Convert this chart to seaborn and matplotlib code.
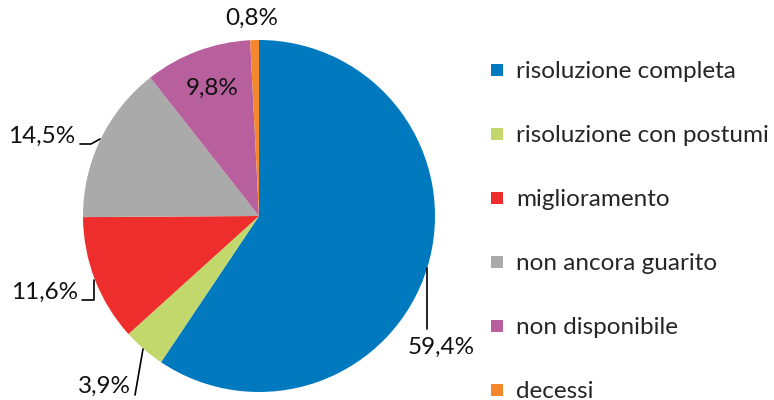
import matplotlib
matplotlib.use("Agg")
import matplotlib.pyplot as plt
import seaborn as sns
from matplotlib.lines import Line2D

categories = ["risoluzione completa", "risoluzione con postumi", "miglioramento",
              "non ancora guarito", "non disponibile", "decessi"]
values = [59.4, 3.9, 11.6, 14.5, 9.8, 0.8]
value_labels = ["59,4%", "3,9%", "11,6%", "14,5%", "9,8%", "0,8%"]
colors = ["#0079BF", "#C2D86C", "#EE2E2C", "#ABAAAA", "#B8609D", "#F5882C"]

sns.set_style("white")
plt.rcParams["font.family"] = ["Lato", "DejaVu Sans"]

W, H = 774, 400
fig = plt.figure(figsize=(W / 100, H / 100), dpi=100)
cx, cy, r = 259, 216, 176
ax = fig.add_axes([(cx - r) / W, (H - cy - r) / H, 2 * r / W, 2 * r / H])
ax.pie(values, colors=colors, startangle=90, counterclock=False,
       wedgeprops=dict(linewidth=0))
ax.set_xlim(-1, 1)
ax.set_ylim(-1, 1)
ax.axis("off")


def d(px, py):
    # pixel position -> data coords of the pie axes
    return (px - cx) / r, (cy - py) / r


# label positions (pixel centres) and leader lines
label_pos = [(441, 347), (104, 386), (45, 292), (42, 136), (212, 88), (252, 18)]
leaders = [
    [(427, 268), (427, 329)],
    [(143, 349), (135, 395)],
    [(82, 300), (94, 300), (94, 280)],
    [(80, 144), (91, 144), (100, 139)],
    None,
    None,
]
fs = 17.5
for lab, (px, py), ld in zip(value_labels, label_pos, leaders):
    x, y = d(px, py)
    ax.text(x, y, lab, ha="center", va="center", fontsize=fs, color="#111111",
            clip_on=False)
    if ld:
        pts = [d(*p) for p in ld]
        ax.plot([p[0] for p in pts], [p[1] for p in pts], color="black",
                lw=1.2, clip_on=False)

handles = [Line2D([0], [0], marker="s", linestyle="none", markersize=8.5,
                  markerfacecolor=c, markeredgewidth=0) for c in colors]
fig.legend(handles, categories, loc="upper left",
           bbox_to_anchor=(485 / W, 1 - 61 / H), frameon=False, fontsize=fs,
           labelspacing=1.77, handletextpad=0.27, handlelength=1.0,
           borderpad=0, borderaxespad=0)

fig.savefig("out.png", dpi=100)
